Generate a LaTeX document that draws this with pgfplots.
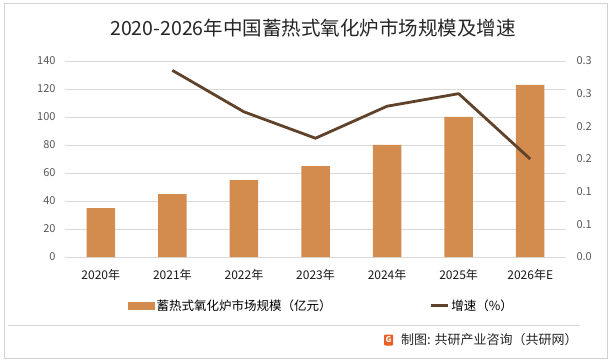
\documentclass[border=0pt]{standalone}
\usepackage{pgfplots}
\pgfplotsset{compat=1.18}
\usepackage{fontspec}
\setmainfont{Noto Sans CJK SC}
\definecolor{barc}{RGB}{211,139,78}
\definecolor{linec}{RGB}{96,66,42}
\definecolor{gridc}{RGB}{217,217,217}
\definecolor{tickc}{RGB}{89,89,89}
\definecolor{logoc}{RGB}{236,96,36}
\begin{document}
\begin{tikzpicture}[x=1pt,y=1pt]
\useasboundingbox (0,0) rectangle (615,359);
\fill[white] (0,0) rectangle (615,359);
\draw[black!18, line width=1pt] (4,1) rectangle (607,355);
\draw[black!15, line width=1pt] (8,34) -- (580,34);
\node[font=\fontsize{19.5}{19.5}\selectfont, text=black!85] at (313,331) {2020-2026年中国蓄热式氧化炉市场规模及增速};
\begin{axis}[at={(65pt,102pt)}, anchor=south west, scale only axis,
  width=501pt, height=196pt,
  xmin=-0.5, xmax=6.5, ymin=0, ymax=140,
  ytick={0,20,...,140}, xtick={0,...,6},
  xticklabels={2020年,2021年,2022年,2023年,2024年,2025年,2026年E},
  axis line style={draw=none}, major tick length=0pt,
  ymajorgrids, grid style={gridc, line width=0.8pt},
  /pgf/number format/assume math mode=true,
  yticklabel style={font=\fontsize{11}{11}\selectfont, text=tickc, xshift=-6pt},
  xticklabel style={font=\fontsize{12}{12}\selectfont, text=black!90, yshift=-9pt},
  clip=false]
\addplot[ybar, bar width=28.5pt, fill=barc, draw=none] coordinates {
 (0,35) (1,45) (2,55) (3,65) (4,80) (5,100) (6,123)};
\end{axis}
\begin{axis}[at={(65pt,102pt)}, anchor=south west, scale only axis,
  width=501pt, height=196pt,
  xmin=-0.5, xmax=6.5, ymin=0, ymax=0.3,
  ytick={0,0.05,...,0.3}, xtick=\empty,
  axis line style={draw=none}, major tick length=0pt,
  axis y line*=right, axis x line=none,
  /pgf/number format/assume math mode=true,
  yticklabel style={font=\fontsize{11}{11}\selectfont, text=tickc, xshift=7pt,
    /pgf/number format/.cd, fixed, fixed zerofill, precision=1},
  legend style={at={(0.512,-0.248)}, anchor=center, draw=none, fill=none,
    font=\fontsize{12.5}{12.5}\selectfont, legend columns=2,
    /tikz/every even column/.append style={column sep=96pt}},
  clip=false]
\addlegendimage{legend image code/.code={\fill[barc] (0pt,-3.5pt) rectangle (26pt,3.5pt);}}
\addlegendentry{蓄热式氧化炉市场规模（亿元）}
\addplot[linec, line width=2.8pt, line join=round] coordinates {
 (1,0.2857) (2,0.2222) (3,0.1818) (4,0.2308) (5,0.25) (6,0.15)};
\addlegendentry{增速（\%）}
\end{axis}
\fill[logoc, rounded corners=1pt] (384,13.5) rectangle (393,24.5);
\node[text=white, font=\fontsize{8}{8}\selectfont\bfseries, inner sep=0] at (388.5,19) {G};
\node[anchor=west, font=\fontsize{13}{13}\selectfont, text=black!85, inner sep=0] at (401,19) {制图: 共研产业咨询（共研网）};
\end{tikzpicture}
\end{document}
